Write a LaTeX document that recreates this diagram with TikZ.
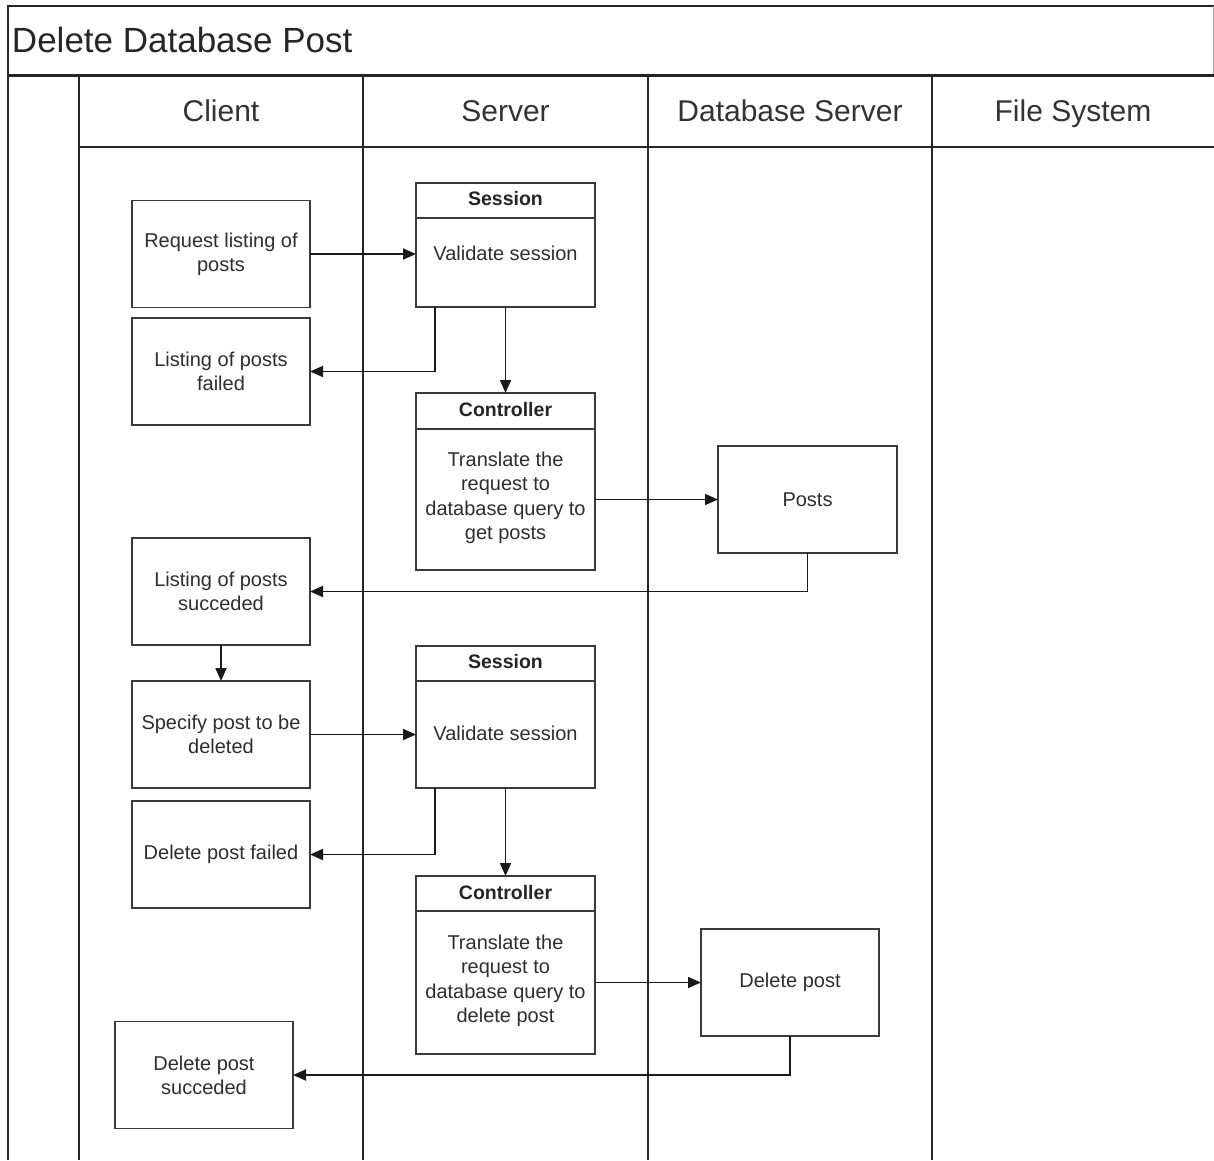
\documentclass[tikz,border=0pt]{standalone}
\usepackage{fontspec}
\setmainfont{Liberation Sans}
\usetikzlibrary{arrows.meta,calc}
\definecolor{ink}{HTML}{2E2E2E}
\definecolor{edge}{HTML}{3A3A3A}
\tikzset{
  every node/.style={inner sep=0pt, outer sep=0pt},
  lane/.style={line width=1.8pt, draw=black!85},
  stepbox/.style={draw=edge, line width=1.8pt, minimum width=178pt, minimum height=107pt, align=center,
    text=ink, font=\fontsize{20}{24}\selectfont},
  compbox/.style={draw=edge, line width=1.8pt, minimum width=179pt},
  comptitle/.style={text=ink!80!black, font=\fontsize{19.5}{24}\selectfont\bfseries},
  compbody/.style={text=ink, align=center, font=\fontsize{20}{24.5}\selectfont},
  lanehead/.style={text=black!80, anchor=base, font=\fontsize{30}{32}\selectfont},
  arr/.style={line width=1.8pt, draw=black!90, -{Triangle[length=13pt,width=11pt]}},
}
\begin{document}
\begin{tikzpicture}[x=1pt, y=-1pt]
\useasboundingbox (0,0) rectangle (1214,1160);
\fill[white] (0,0) rectangle (1214,1160);

% pool frame and title band
\draw[lane] (8,1160) -- (8,6) -- (1214,6);
\draw[draw=black!35, line width=1pt] (1213,6) -- (1213,75);
\draw[line width=3pt, draw=black!85] (8,75) -- (1214,75);
\node[anchor=west, text=black!85, font=\fontsize{35}{38}\selectfont] (title) at (12,40) {Delete Database Post};

% swimlanes
\draw[lane] (79,75) -- (79,1160);
\draw[lane] (363,75) -- (363,1160);
\draw[lane] (648,75) -- (648,1160);
\draw[lane] (932,75) -- (932,1160);
\draw[lane] (79,147) -- (1214,147);
\node[lanehead] (hclient) at (221,121) {Client};
\node[lanehead] (hserver) at (505.5,121) {Server};
\node[lanehead] (hdb) at (790,121) {Database Server};
\node[lanehead] (hfs) at (1073,121) {File System};

% client steps
\node[stepbox] (req) at (221,254) {Request listing of\\posts};
\node[stepbox] (fail1) at (221,371.5) {Listing of posts\\failed};
\node[stepbox] (succ) at (221,591.5) {Listing of posts\\succeded};
\node[stepbox] (spec) at (221,734.5) {Specify post to be\\deleted};
\node[stepbox] (fail2) at (221,854.5) {Delete post failed};
\node[stepbox] (dsucc) at (204,1075) {Delete post\\succeded};

% server components: session 1
\node[compbox, minimum height=124pt] (ses1) at (505.5,245) {};
\draw[line width=1.8pt, draw=edge] (ses1.west |- 0,218) -- (ses1.east |- 0,218);
\node[comptitle] (ses1t) at (505.5,199) {Session};
\node[compbody] (ses1b) at (505.5,253) {Validate session};

% controller 1
\node[compbox, minimum height=177pt] (ctl1) at (505.5,481.5) {};
\draw[line width=1.8pt, draw=edge] (ctl1.west |- 0,429) -- (ctl1.east |- 0,429);
\node[comptitle] (ctl1t) at (505.5,410) {Controller};
\node[compbody] (ctl1b) at (505.5,498) {Translate the\\request to\\database query to\\get posts};

% session 2
\node[compbox, minimum height=142pt] (ses2) at (505.5,717) {};
\draw[line width=1.8pt, draw=edge] (ses2.west |- 0,681) -- (ses2.east |- 0,681);
\node[comptitle] (ses2t) at (505.5,662) {Session};
\node[compbody] (ses2b) at (505.5,733) {Validate session};

% controller 2
\node[compbox, minimum height=178pt] (ctl2) at (505.5,965) {};
\draw[line width=1.8pt, draw=edge] (ctl2.west |- 0,911) -- (ctl2.east |- 0,911);
\node[comptitle] (ctl2t) at (505.5,893) {Controller};
\node[compbody] (ctl2b) at (505.5,981) {Translate the\\request to\\database query to\\delete post};

% database steps
\node[stepbox, minimum width=179pt] (posts) at (807.5,499.5) {Posts};
\node[stepbox] (delp) at (790,982.5) {Delete post};

% connectors
\draw[arr] (req.east) -- (req.east -| ses1.west);
\draw[arr] ($(ses1.south west)+(19,0)$) |- (fail1.east);
\draw[arr] (ses1.south) -- (ctl1.north);
\draw[arr] (posts.west -| ctl1.east) -- (posts.west);
\draw[arr] (posts.south) |- (succ.east);
\draw[arr] (succ.south) -- (spec.north);
\draw[arr] (spec.east) -- (spec.east -| ses2.west);
\draw[arr] ($(ses2.south west)+(19,0)$) |- (fail2.east);
\draw[arr] (ses2.south) -- (ctl2.north);
\draw[arr] (delp.west -| ctl2.east) -- (delp.west);
\draw[arr] (delp.south) |- (dsucc.east);
\end{tikzpicture}
\end{document}
